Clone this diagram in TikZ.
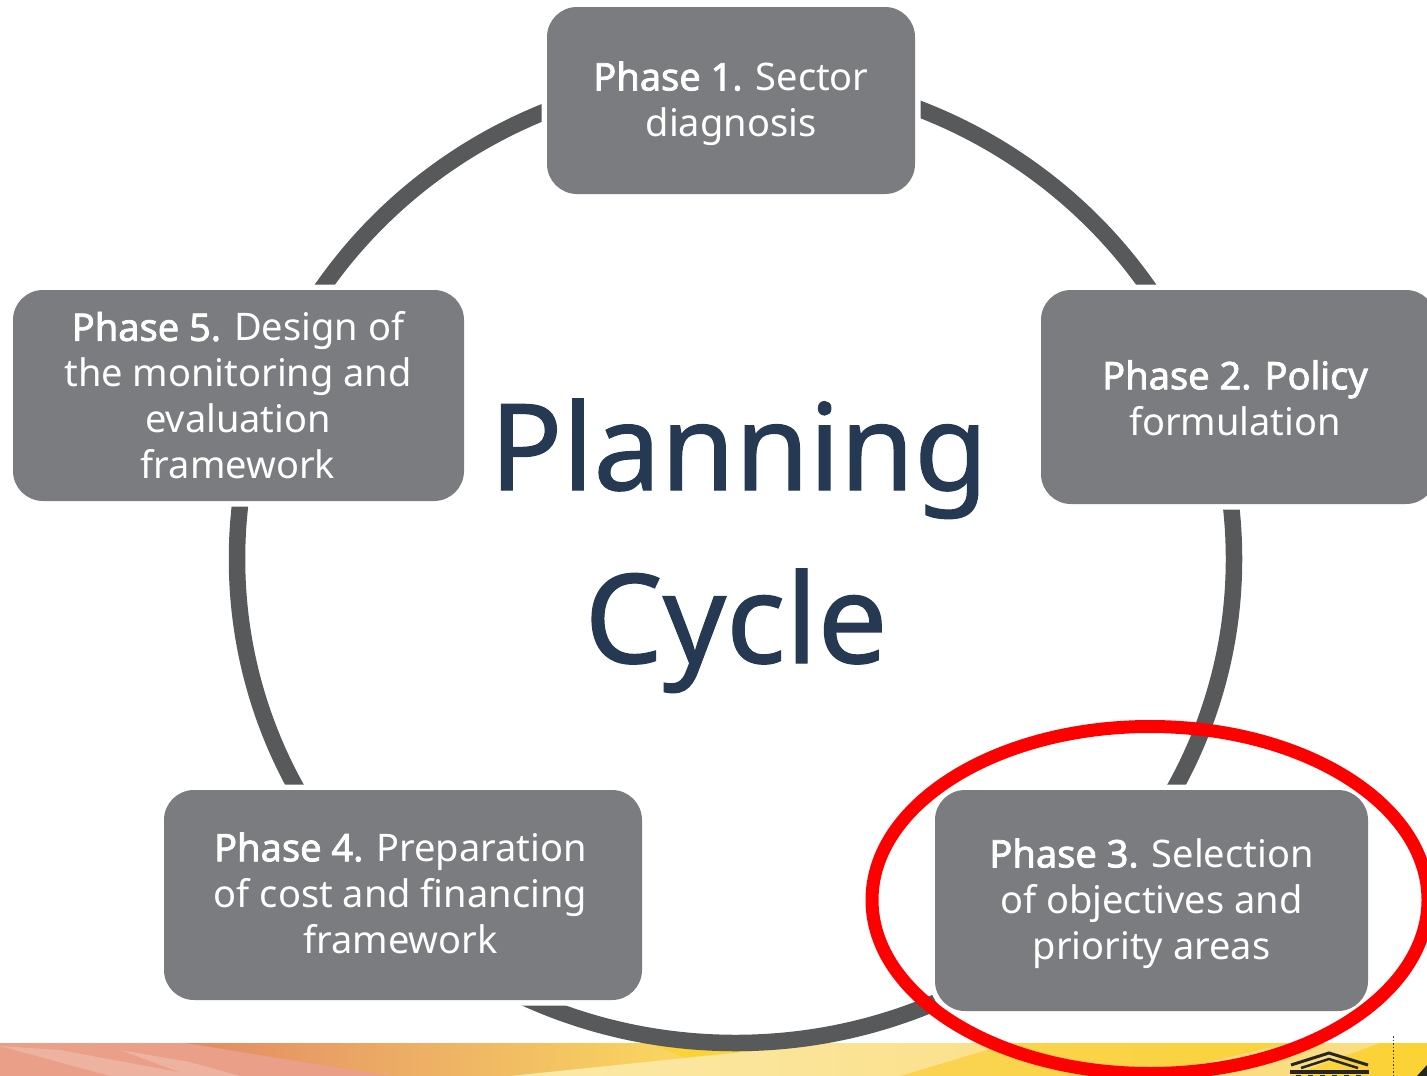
\documentclass[tikz,border=0pt]{standalone}
\usepackage{fontspec}
\setmainfont{Noto Sans}
\newfontfamily\phasefont[FakeBold=2]{Noto Sans}
\newfontfamily\titlefont[FakeBold=1]{Noto Sans}
\definecolor{boxgrey}{HTML}{7B7C7F}
\definecolor{ringgrey}{HTML}{58595B}
\definecolor{titlenavy}{HTML}{253A52}
\definecolor{band1}{HTML}{E99F88}
\definecolor{band1b}{HTML}{EDB3A0}
\definecolor{band2}{HTML}{E28A62}
\definecolor{band2b}{HTML}{EDB065}
\definecolor{band3}{HTML}{F9D460}
\definecolor{band4}{HTML}{FBD335}
\definecolor{bandpale}{HTML}{FCE9A8}
\tikzset{
  phasebox/.style={rectangle,rounded corners=30pt,fill=boxgrey,inner sep=0pt,
    preaction={draw=white,line width=11pt}},
  phasetext/.style={text=white,align=center,inner sep=0pt,font=\fontsize{38}{46}\selectfont},
  titletext/.style={text=titlenavy,inner sep=0pt},
}
\newcommand{\phaselabel}[1]{{\phasefont #1}}
\begin{document}
\begin{tikzpicture}[x=1pt,y=-1pt]
\useasboundingbox (0,0) rectangle (1427,1076);
\clip (0,0) rectangle (1427,1076);
\fill[white] (0,0) rectangle (1427,1076);
% bottom band
\shade[left color=band2,right color=band3,middle color=band2b] (185,1043) rectangle (660,1076);
\fill[band1] (0,1043) -- (185,1043) -- (390,1076) -- (0,1076) -- cycle;
\fill[band1b] (0,1046) -- (60,1050) -- (200,1076) -- (110,1076) -- cycle;
\fill[band1b] (120,1050) -- (190,1062) -- (240,1076) -- (190,1076) -- cycle;
\shade[left color=band3,right color=band4] (660,1043) rectangle (1427,1076);
\fill[band4] (650,1043) -- (830,1043) -- (690,1060) -- cycle;
\shade[left color=bandpale,right color=bandpale!60!band3] (510,1076) -- (830,1043) -- (1010,1043) -- (900,1076) -- cycle;
\fill[band3!80!white] (1150,1076) -- (1290,1043) -- (1380,1043) -- (1290,1076) -- cycle;
\fill[band4] (1394,1043) rectangle (1427,1076);
% ring
\draw[ringgrey,line width=16.5pt] (735.5,559) ellipse [x radius=498.5,y radius=484];
% boxes
\node[phasebox,minimum width=368pt,minimum height=187pt] (p1) at (731,100.5) {};
\node[phasebox,minimum width=395pt,minimum height=214pt] (p2) at (1238.5,397) {};
\node[phasebox,minimum width=433pt,minimum height=221pt] (p3) at (1151.5,900.5) {};
\node[phasebox,minimum width=478pt,minimum height=210pt] (p4) at (403,895) {};
\node[phasebox,minimum width=451pt,minimum height=211pt] (p5) at (238.5,395.5) {};
\node[phasetext] (p1t) at (731,103.5) {\phaselabel{Phase 1.} Sector\\diagnosis};
\node[phasetext] (p2t) at (1235,398) {\phaselabel{Phase 2. Policy}\\formulation};
\node[phasetext] (p3t) at (1151.5,903.5) {\phaselabel{Phase 3.} Selection\\of objectives and\\priority areas};
\node[phasetext] (p4t) at (400.5,893) {\phaselabel{Phase 4.} Preparation\\of cost and financing\\framework};
\node[phasetext] (p5t) at (238,395.5) {\phaselabel{Phase 5.} Design of\\the monitoring and\\evaluation\\framework};
% title
\node[titletext,anchor=base,font=\fontsize{120}{120}\selectfont\titlefont] (t1) at (739,490) {Planning};
\node[titletext,anchor=base,font=\fontsize{124}{124}\selectfont\titlefont] (t2) at (736,663) {Cycle};
% highlight
\draw[red,line width=13pt] (1150,900) ellipse [x radius=278,y radius=173.5];
% logo
\draw[black!85,line width=3pt] (1291,1065) -- (1329,1053) -- (1368,1065);
\draw[black!85,line width=2.5pt] (1301,1068) -- (1329,1059) -- (1358,1068);
\fill[black!85] (1290,1070) rectangle (1369,1073.5);
\foreach \x in {1296,1308,1320,1332,1344,1356}{\fill[black!85] (\x,1075) rectangle ++(5,2);}
\draw[black!80,line width=1.5pt,dotted] (1393.5,1036) -- (1393.5,1076);
\fill[black!85] (1427,1065) -- (1427,1076) -- (1417,1076) -- cycle;
\end{tikzpicture}
\end{document}
